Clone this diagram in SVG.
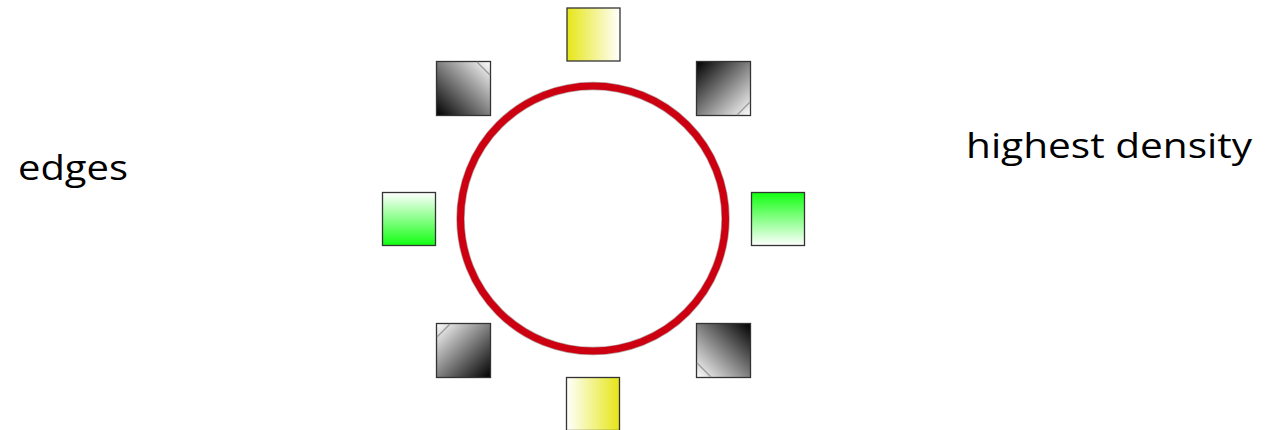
<svg xmlns="http://www.w3.org/2000/svg" width="1265" height="430" viewBox="0 0 1265 430">
<defs>
<linearGradient id="yL" x1="0" y1="0" x2="1" y2="0"><stop offset="0" stop-color="#E6E617"/><stop offset="1" stop-color="#FFFFFF"/></linearGradient>
<linearGradient id="yR" x1="0" y1="0" x2="1" y2="0"><stop offset="0" stop-color="#FFFFFF"/><stop offset="1" stop-color="#E6E617"/></linearGradient>
<linearGradient id="gB" x1="0" y1="0" x2="0" y2="1"><stop offset="0" stop-color="#FFFFFF"/><stop offset="1" stop-color="#11FF11"/></linearGradient>
<linearGradient id="gT" x1="0" y1="0" x2="0" y2="1"><stop offset="0" stop-color="#11FF11"/><stop offset="1" stop-color="#FFFFFF"/></linearGradient>
<linearGradient id="kBL" x1="0" y1="1" x2="1" y2="0"><stop offset="0" stop-color="#000000"/><stop offset="1" stop-color="#FFFFFF"/></linearGradient>
<linearGradient id="kTL" x1="0" y1="0" x2="1" y2="1"><stop offset="0" stop-color="#000000"/><stop offset="1" stop-color="#FFFFFF"/></linearGradient>
<linearGradient id="kBR" x1="1" y1="1" x2="0" y2="0"><stop offset="0" stop-color="#000000"/><stop offset="1" stop-color="#FFFFFF"/></linearGradient>
<linearGradient id="kTR" x1="1" y1="0" x2="0" y2="1"><stop offset="0" stop-color="#000000"/><stop offset="1" stop-color="#FFFFFF"/></linearGradient>
</defs>
<style>
.sq{stroke:#333333;stroke-width:1.3}
.cut{stroke:#999999;stroke-width:1.2;fill:none}
.lbl{font-family:"Open Sans","Liberation Sans",sans-serif;font-size:34px;fill:#000000}
</style>
<rect width="1265" height="430" fill="#FFFFFF"/>
<g id="ring">
<circle cx="593" cy="218.5" r="132.5" fill="none" stroke="#B8A8A8" stroke-width="8.5"/>
<circle cx="593" cy="218.5" r="132.5" fill="none" stroke="#CC0010" stroke-width="7"/>
</g>
<g id="sq-top"><rect class="sq" x="567" y="8" width="53" height="53" fill="url(#yL)"/></g>
<g id="sq-topleft"><rect class="sq" x="436.5" y="61.5" width="54" height="54" fill="url(#kBL)"/><path class="cut" d="M477 62 L490 75"/></g>
<g id="sq-topright"><rect class="sq" x="696.5" y="61.5" width="54" height="54" fill="url(#kTL)"/><path class="cut" d="M737 115 L750 102"/></g>
<g id="sq-left"><rect class="sq" x="382.5" y="192.5" width="53" height="53" fill="url(#gB)"/></g>
<g id="sq-right"><rect class="sq" x="751.5" y="192.5" width="53" height="53" fill="url(#gT)"/></g>
<g id="sq-bottomleft"><rect class="sq" x="436.5" y="323.5" width="54" height="54" fill="url(#kBR)"/><path class="cut" d="M437 337 L450 324"/></g>
<g id="sq-bottomright"><rect class="sq" x="696.5" y="323.5" width="54" height="54" fill="url(#kTR)"/><path class="cut" d="M697 363 L711 377"/></g>
<g id="sq-bottom"><rect class="sq" x="566.5" y="377.5" width="53" height="53" fill="url(#yR)"/></g>
<g id="label-edges"><text class="lbl" x="18" y="180" textLength="110" lengthAdjust="spacingAndGlyphs">edges</text></g>
<g id="label-density"><text class="lbl" x="966" y="158" textLength="286" lengthAdjust="spacingAndGlyphs">highest density</text></g>
<g id="connectors"/>
</svg>
